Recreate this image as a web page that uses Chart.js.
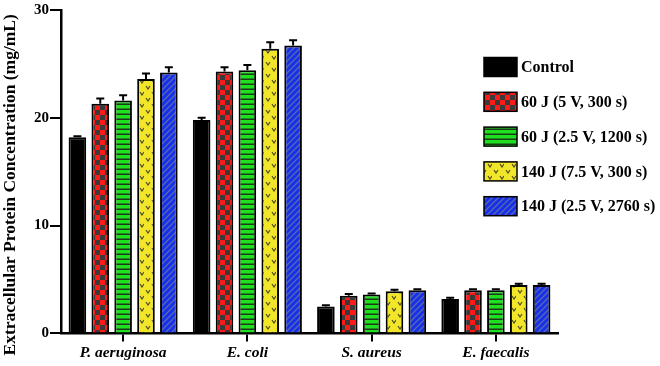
<!DOCTYPE html>
<html>
<head>
<meta charset="utf-8">
<script src="https://cdn.jsdelivr.net/npm/chart.js@4.4.1/dist/chart.umd.min.js"></script>
<style>
  html, body { margin: 0; padding: 0; background: #fff; }
  #wrap { width: 660px; height: 366px; }
</style>
</head>
<body>
<div id="wrap"><canvas id="proteinChart" width="660" height="366"></canvas></div>
<script>
// Data
const categories = ['P. aeruginosa', 'E. coli', 'S. aureus', 'E. faecalis'];
const seriesLabels = ['Control', '60 J (5 V, 300 s)', '60 J (2.5 V, 1200 s)', '140 J (7.5 V, 300 s)', '140 J (2.5 V, 2760 s)'];
const controlValues = [18.2, 19.8, 2.5, 3.2];
const j60v5Values   = [21.3, 24.3, 3.5, 4.0];
const j60v25Values  = [21.6, 24.4, 3.6, 4.0];
const j140v75Values = [23.6, 26.4, 3.9, 4.5];
const j140v25Values = [24.2, 26.7, 4.0, 4.5];
const controlErr = [0.1, 0.2, 0.1, 0.1];
const j60v5Err   = [0.5, 0.4, 0.15, 0.1];
const j60v25Err  = [0.5, 0.5, 0.1, 0.1];
const j140v75Err = [0.5, 0.6, 0.15, 0.1];
const j140v25Err = [0.5, 0.5, 0.1, 0.1];
const yTicks = [0, 10, 20, 30];

const serif = "'Liberation Serif', 'Times New Roman', serif";

// Fill patterns for the bars
function makeTile(w, h, drawFn) {
    const c = document.createElement('canvas');
    c.width = w; c.height = h;
    const g = c.getContext('2d');
    drawFn(g, w, h);
    return document.getElementById('proteinChart').getContext('2d').createPattern(c, 'repeat');
}

const checkerFill = makeTile(10, 10, function(g) {
    g.fillStyle = '#3a3a3a'; g.fillRect(0, 0, 10, 10);
    g.fillStyle = '#ff1a1a'; g.fillRect(0, 0, 5, 5); g.fillRect(5, 5, 5, 5);
});
const stripeFill = makeTile(8, 5, function(g) {
    g.fillStyle = '#1ee01e'; g.fillRect(0, 0, 8, 5);
    g.fillStyle = '#1a3a1a'; g.fillRect(0, 3.5, 8, 1.5);
});
const chevronFill = makeTile(12, 12, function(g) {
    g.fillStyle = '#f2e62a'; g.fillRect(0, 0, 12, 12);
    g.strokeStyle = '#4a4a20'; g.lineWidth = 1.2;
    g.beginPath();
    g.moveTo(2, 2); g.lineTo(4, 5); g.lineTo(6, 2);
    g.moveTo(8, 8); g.lineTo(10, 11); g.lineTo(12, 8);
    g.stroke();
});
const diagFill = makeTile(6, 6, function(g) {
    g.fillStyle = '#1530e8'; g.fillRect(0, 0, 6, 6);
    g.strokeStyle = '#5a68b0'; g.lineWidth = 1.3;
    g.beginPath();
    g.moveTo(-1, 7); g.lineTo(7, -1);
    g.moveTo(-4, 4); g.lineTo(4, -4);
    g.moveTo(2, 10); g.lineTo(10, 2);
    g.stroke();
});

const fills = ['#000000', checkerFill, stripeFill, chevronFill, diagFill];
const values = [controlValues, j60v5Values, j60v25Values, j140v75Values, j140v25Values];
const errors = [controlErr, j60v5Err, j60v25Err, j140v75Err, j140v25Err];

// Error bars, drawn upward from the top of each bar
const errorBars = {
    id: 'errorBars',
    afterDatasetsDraw(chart) {
        const ctx = chart.ctx;
        const yScale = chart.scales.y;
        ctx.save();
        ctx.strokeStyle = '#000';
        ctx.lineWidth = 2;
        chart.data.datasets.forEach(function(ds, i) {
            const meta = chart.getDatasetMeta(i);
            meta.data.forEach(function(bar, j) {
                const top = yScale.getPixelForValue(ds.data[j] + ds.errors[j]);
                ctx.beginPath();
                ctx.moveTo(bar.x, bar.y);
                ctx.lineTo(bar.x, top);
                ctx.moveTo(bar.x - 4, top);
                ctx.lineTo(bar.x + 4, top);
                ctx.stroke();
            });
        });
        ctx.restore();
    }
};

// Legend on the right side
const sideLegend = {
    id: 'sideLegend',
    afterDraw(chart) {
        const ctx = chart.ctx;
        ctx.save();
        ctx.font = 'bold 16px ' + serif;
        ctx.textBaseline = 'middle';
        chart.data.datasets.forEach(function(ds, i) {
            const cy = 67 + i * 34.8;
            ctx.fillStyle = ds.backgroundColor;
            ctx.fillRect(484, cy - 9.5, 33, 19);
            ctx.strokeStyle = '#000';
            ctx.lineWidth = 1.5;
            ctx.strokeRect(484, cy - 9.5, 33, 19);
            ctx.fillStyle = '#000';
            ctx.fillText(ds.label, 521, cy + 1);
        });
        ctx.restore();
    }
};

const ctx = document.getElementById('proteinChart').getContext('2d');
new Chart(ctx, {
    type: 'bar',
    data: {
        labels: categories,
        datasets: seriesLabels.map(function(label, i) {
            return {
                label: label,
                data: values[i],
                errors: errors[i],
                backgroundColor: fills[i],
                borderColor: '#000',
                borderWidth: 2,
                categoryPercentage: 0.92,
                barPercentage: 0.77
            };
        })
    },
    options: {
        responsive: false,
        animation: false,
        devicePixelRatio: 1,
        layout: { padding: { top: 2, right: 102, left: 0, bottom: 2 } },
        plugins: {
            legend: { display: false },
            tooltip: { enabled: false }
        },
        scales: {
            x: {
                border: { color: '#000', width: 2.5 },
                grid: { offset: false, drawOnChartArea: false, color: '#000', lineWidth: 2, tickLength: 8 },
                ticks: {
                    color: '#000',
                    padding: 2,
                    font: { family: serif, size: 15.5, weight: 'bold', style: 'italic' }
                }
            },
            y: {
                min: 0,
                max: 30,
                afterBuildTicks(axis) {
                    axis.ticks = yTicks.map(function(v) { return { value: v }; });
                },
                border: { color: '#000', width: 2.5 },
                grid: { drawOnChartArea: false, color: '#000', lineWidth: 2, tickLength: 11 },
                ticks: {
                    color: '#000',
                    padding: 1,
                    font: { family: serif, size: 15, weight: 'bold' }
                },
                title: {
                    display: true,
                    // trailing spaces nudge the rotated title down a little, as in the source figure
                    text: 'Extracellular Protein Concentration (mg/mL)      ',
                    color: '#000',
                    padding: { top: 0, bottom: 12 },
                    font: { family: serif, size: 17.5, weight: 'bold' }
                }
            }
        }
    },
    plugins: [errorBars, sideLegend]
});
</script>
</body>
</html>
